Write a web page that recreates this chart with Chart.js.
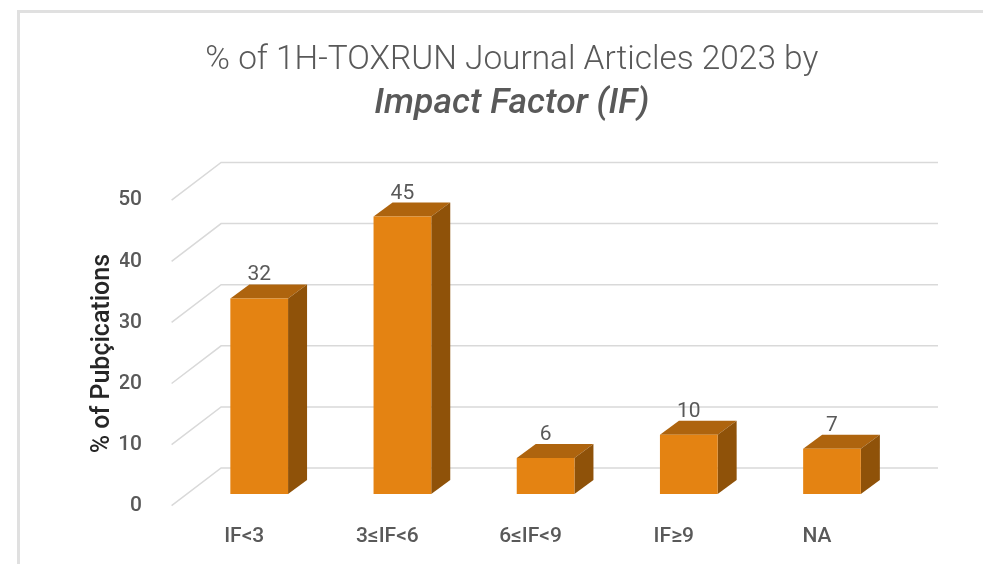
<!DOCTYPE html>
<html>
<head>
<meta charset="utf-8">
<script src="https://cdn.jsdelivr.net/npm/chart.js@4"></script>
<style>
html,body{margin:0;padding:0;background:#fff;overflow:hidden}
#wrap{position:absolute;left:0;top:0;width:983px;height:564px}
#frame{position:absolute;left:17px;top:10px;width:966px;height:554px;border-left:3px solid #e0e0e0;border-top:3px solid #e0e0e0;box-sizing:border-box}
canvas{position:absolute;left:0;top:0}
</style>
</head>
<body>
<div id="wrap"><div id="frame"></div><canvas id="c" width="983" height="564"></canvas></div>
<script>
const categories = ['IF<3', '3≤IF<6', '6≤IF<9', 'IF≥9', 'NA'];
const publications = [32, 45.4, 5.9, 9.7, 7.4];
const titleLine1 = '% of 1H-TOXRUN Journal Articles 2023 by';
const titleLine2 = 'Impact Factor (IF)';
const axisTitle = '% of Pubçications';

const DEPTH_BAR = {dx: 19, dy: 14};
const GRID_FRONT = {dx: -49.5, dy: 11.7};
const GRID_BACK = {dy: -26};
const GRID_RIGHT = 938;
const GRID_COLOR = '#d9d9d9';
const FRONT = '#e48312', TOP = '#ae640e', SIDE = '#8f5209';
const FONT = 'Roboto, sans-serif';

const walls = {
  id: 'walls',
  beforeDatasetsDraw(chart) {
    const {ctx, scales: {y}, chartArea: a} = chart;
    const backX = a.left + 33.5;
    ctx.save();
    ctx.strokeStyle = GRID_COLOR;
    ctx.lineWidth = 1.5;
    y.ticks.forEach(t => {
      const py = y.getPixelForValue(t.value);
      ctx.beginPath();
      ctx.moveTo(backX + GRID_FRONT.dx, py + GRID_FRONT.dy);
      ctx.lineTo(backX, py + GRID_BACK.dy);
      ctx.lineTo(GRID_RIGHT, py + GRID_BACK.dy);
      ctx.stroke();
    });
    const meta = chart.getDatasetMeta(0);
    meta.data.forEach(b => {
      const l = b.x - b.width / 2, r = b.x + b.width / 2, t = b.y, bt = b.base;
      const {dx, dy} = DEPTH_BAR;
      ctx.fillStyle = TOP;
      ctx.beginPath();
      ctx.moveTo(l, t); ctx.lineTo(l + dx, t - dy); ctx.lineTo(r + dx, t - dy); ctx.lineTo(r, t);
      ctx.closePath(); ctx.fill();
      ctx.fillStyle = SIDE;
      ctx.beginPath();
      ctx.moveTo(r, t); ctx.lineTo(r + dx, t - dy); ctx.lineTo(r + dx, bt - dy); ctx.lineTo(r, bt);
      ctx.closePath(); ctx.fill();
    });
    ctx.restore();
  },
  afterDatasetsDraw(chart) {
    const {ctx} = chart;
    const meta = chart.getDatasetMeta(0);
    ctx.save();
    ctx.fillStyle = '#595959';
    ctx.font = '21px ' + FONT;
    ctx.textAlign = 'center';
    ctx.textBaseline = 'alphabetic';
    meta.data.forEach((b, i) => {
      ctx.fillText(String(Math.round(publications[i])), b.x, b.y - 18);
    });
    ctx.restore();
  }
};

new Chart(document.getElementById('c'), {
  type: 'bar',
  data: {
    labels: categories,
    datasets: [{
      label: axisTitle,
      data: publications,
      backgroundColor: FRONT,
      borderWidth: 0,
      barPercentage: 0.403,
      categoryPercentage: 1
    }]
  },
  plugins: [walls],
  options: {
    responsive: false,
    animation: false,
    events: [],
    layout: {padding: {left: 120, right: 79.4, top: 0, bottom: 0}},
    plugins: {
      legend: {display: false},
      tooltip: {enabled: false},
      title: {
        display: true, text: titleLine1, color: '#595959',
        font: {family: FONT, size: 33.4, weight: '300'},
        padding: {top: 41, bottom: 1.8}
      },
      subtitle: {
        display: true, text: titleLine2, color: '#595959',
        font: {family: FONT, size: 35.5, weight: '500', style: 'italic'},
        padding: {top: 0, bottom: 63}
      }
    },
    scales: {
      x: {
        grid: {display: false},
        border: {display: false},
        ticks: {color: '#595959', font: {family: FONT, size: 21, weight: '500'}, labelOffset: -15, padding: 22, maxRotation: 0},
        afterFit(s) { s.height = 70; }
      },
      y: {
        min: 0, max: 50,
        grid: {display: false},
        border: {display: false},
        ticks: {stepSize: 10, color: '#595959', font: {family: FONT, size: 21, weight: '500'}, labelOffset: 11.7, padding: 37.6},
        title: {display: true, text: axisTitle + '    ', color: '#262626', font: {family: FONT, size: 25, weight: '500'}, padding: {top: -32, bottom: 0}},
        afterFit(s) { s.width = 67.6; }
      }
    }
  }
});
</script>
</body>
</html>
